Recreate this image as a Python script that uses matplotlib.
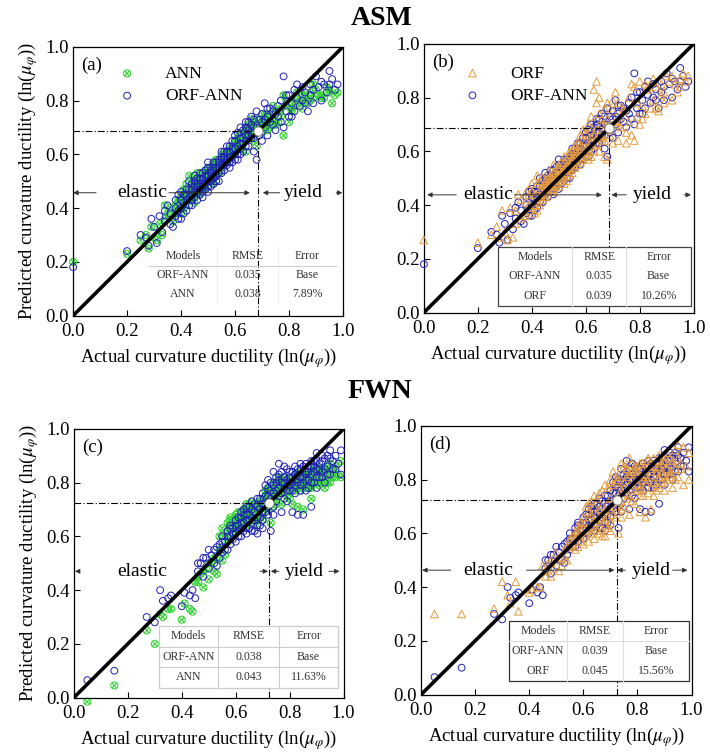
import matplotlib
matplotlib.use("Agg")
import matplotlib.pyplot as plt
from matplotlib.path import Path
from matplotlib.patches import Rectangle

plt.rcParams["font.family"] = "serif"
plt.rcParams["font.serif"] = ["Liberation Serif", "DejaVu Serif"]
plt.rcParams["mathtext.fontset"] = "stix"

# ---- ASM test set: actual vs predicted ln(mu_phi) ----
asm_actual = [
    0.00, 0.20, 0.25, 0.27, 0.28, 0.29, 0.30, 0.31, 0.32, 0.33,
    0.34, 0.34, 0.35, 0.36, 0.36, 0.37, 0.38, 0.38, 0.39, 0.39,
    0.40, 0.40, 0.41, 0.41, 0.42, 0.42, 0.43, 0.43, 0.44, 0.44,
    0.44, 0.45, 0.45, 0.46, 0.46, 0.46, 0.47, 0.47, 0.47, 0.48,
    0.48, 0.48, 0.49, 0.49, 0.49, 0.50, 0.50, 0.50, 0.51, 0.51,
    0.51, 0.52, 0.52, 0.52, 0.53, 0.53, 0.53, 0.54, 0.54, 0.54,
    0.55, 0.55, 0.55, 0.56, 0.56, 0.56, 0.57, 0.57, 0.57, 0.58,
    0.58, 0.58, 0.59, 0.59, 0.60, 0.60, 0.60, 0.61, 0.61, 0.62,
    0.62, 0.62, 0.63, 0.63, 0.64, 0.64, 0.64, 0.65, 0.65, 0.66,
    0.66, 0.66, 0.67, 0.67, 0.68, 0.68, 0.69, 0.70, 0.70, 0.71,
    0.71, 0.72, 0.72, 0.73, 0.74, 0.75, 0.75, 0.76, 0.77, 0.77,
    0.78, 0.78, 0.79, 0.80, 0.80, 0.81, 0.82, 0.82, 0.83, 0.84,
    0.85, 0.85, 0.86, 0.87, 0.88, 0.88, 0.89, 0.90, 0.91, 0.92,
    0.93, 0.94, 0.95, 0.96, 0.97, 0.98,
    0.38, 0.39, 0.40, 0.40, 0.41, 0.42, 0.42, 0.43, 0.43, 0.44,
    0.44, 0.45, 0.45, 0.45, 0.46, 0.46, 0.47, 0.47, 0.48, 0.48,
    0.48, 0.49, 0.49, 0.50, 0.50, 0.50, 0.51, 0.51, 0.52, 0.52,
    0.52, 0.53, 0.53, 0.54, 0.54, 0.55, 0.55, 0.55, 0.56, 0.56,
    0.57, 0.57, 0.58, 0.58, 0.59, 0.59, 0.60, 0.60, 0.61, 0.61,
    0.62, 0.62, 0.63, 0.63, 0.64, 0.64, 0.65, 0.65, 0.66, 0.67,
    0.67, 0.68, 0.69, 0.70, 0.71, 0.72, 0.73, 0.74, 0.76, 0.79,
    0.81, 0.83, 0.86, 0.89, 0.92, 0.95,
]
asm_orfann = [
    0.18, 0.24, 0.30, 0.29, 0.26, 0.36, 0.33, 0.27, 0.37, 0.31,
    0.35, 0.39, 0.41, 0.38, 0.34, 0.33, 0.43, 0.37, 0.39, 0.45,
    0.36, 0.46, 0.42, 0.38, 0.47, 0.39, 0.44, 0.50, 0.49, 0.41,
    0.45, 0.46, 0.50, 0.43, 0.48, 0.51, 0.51, 0.45, 0.48, 0.49,
    0.53, 0.46, 0.47, 0.52, 0.50, 0.50, 0.46, 0.55, 0.54, 0.51,
    0.48, 0.49, 0.55, 0.52, 0.52, 0.57, 0.55, 0.53, 0.50, 0.58,
    0.56, 0.59, 0.53, 0.54, 0.58, 0.61, 0.61, 0.56, 0.58, 0.59,
    0.63, 0.55, 0.57, 0.62, 0.62, 0.65, 0.58, 0.60, 0.68, 0.64,
    0.70, 0.60, 0.66, 0.61, 0.72, 0.67, 0.63, 0.63, 0.69, 0.74,
    0.66, 0.71, 0.61, 0.70, 0.58, 0.76, 0.67, 0.72, 0.65, 0.79,
    0.70, 0.74, 0.67, 0.77, 0.71, 0.75, 0.69, 0.78, 0.72, 0.80,
    0.89, 0.70, 0.76, 0.82, 0.74, 0.79, 0.84, 0.76, 0.81, 0.78,
    0.85, 0.80, 0.83, 0.76, 0.86, 0.82, 0.79, 0.89, 0.85, 0.80,
    0.86, 0.83, 0.91, 0.88, 0.84, 0.86,
    0.40, 0.36, 0.43, 0.40, 0.45, 0.43, 0.45, 0.41, 0.47, 0.43,
    0.47, 0.44, 0.48, 0.52, 0.46, 0.49, 0.47, 0.53, 0.48, 0.51,
    0.44, 0.49, 0.54, 0.48, 0.52, 0.57, 0.50, 0.53, 0.51, 0.54,
    0.57, 0.50, 0.54, 0.55, 0.57, 0.54, 0.58, 0.61, 0.56, 0.59,
    0.57, 0.63, 0.61, 0.57, 0.59, 0.65, 0.60, 0.67, 0.63, 0.58,
    0.66, 0.62, 0.69, 0.64, 0.65, 0.70, 0.67, 0.72, 0.68, 0.73,
    0.66, 0.70, 0.73, 0.75, 0.73, 0.77, 0.72, 0.76, 0.74, 0.82,
    0.74, 0.86, 0.79, 0.84, 0.87, 0.86,
]
asm_ann = [
    0.20, 0.23, 0.28, 0.30, 0.25, 0.33, 0.29, 0.28, 0.34, 0.30,
    0.36, 0.41, 0.38, 0.40, 0.37, 0.35, 0.41, 0.39, 0.42, 0.43,
    0.38, 0.44, 0.45, 0.40, 0.49, 0.41, 0.46, 0.52, 0.47, 0.44,
    0.43, 0.48, 0.52, 0.45, 0.46, 0.53, 0.49, 0.47, 0.50, 0.51,
    0.50, 0.48, 0.49, 0.54, 0.47, 0.52, 0.48, 0.53, 0.52, 0.55,
    0.50, 0.51, 0.57, 0.54, 0.50, 0.55, 0.58, 0.56, 0.53, 0.56,
    0.58, 0.57, 0.55, 0.57, 0.60, 0.59, 0.59, 0.58, 0.61, 0.62,
    0.61, 0.58, 0.60, 0.60, 0.64, 0.63, 0.61, 0.63, 0.66, 0.67,
    0.68, 0.62, 0.64, 0.65, 0.69, 0.70, 0.61, 0.66, 0.71, 0.70,
    0.68, 0.73, 0.65, 0.72, 0.63, 0.73, 0.69, 0.70, 0.68, 0.74,
    0.72, 0.71, 0.69, 0.75, 0.73, 0.72, 0.71, 0.76, 0.74, 0.77,
    0.82, 0.67, 0.78, 0.79, 0.72, 0.76, 0.81, 0.78, 0.79, 0.80,
    0.82, 0.77, 0.80, 0.79, 0.83, 0.80, 0.81, 0.84, 0.82, 0.81,
    0.81, 0.85, 0.84, 0.79, 0.82, 0.83,
    0.38, 0.39, 0.41, 0.43, 0.47, 0.45, 0.43, 0.43, 0.45, 0.46,
    0.49, 0.42, 0.50, 0.49, 0.48, 0.51, 0.45, 0.51, 0.50, 0.53,
    0.47, 0.51, 0.52, 0.50, 0.50, 0.55, 0.53, 0.51, 0.49, 0.56,
    0.54, 0.53, 0.52, 0.57, 0.55, 0.57, 0.60, 0.58, 0.58, 0.56,
    0.60, 0.60, 0.59, 0.60, 0.62, 0.63, 0.63, 0.65, 0.65, 0.62,
    0.64, 0.65, 0.67, 0.66, 0.68, 0.67, 0.69, 0.70, 0.66, 0.71,
    0.69, 0.68, 0.71, 0.72, 0.75, 0.74, 0.70, 0.78, 0.72, 0.80,
    0.77, 0.83, 0.82, 0.86, 0.82, 0.83,
]
asm_orf = [
    0.27, 0.26, 0.29, 0.32, 0.28, 0.38, 0.30, 0.27, 0.39, 0.28,
    0.33, 0.38, 0.44, 0.42, 0.35, 0.36, 0.45, 0.41, 0.40, 0.44,
    0.39, 0.48, 0.40, 0.37, 0.51, 0.38, 0.43, 0.49, 0.46, 0.42,
    0.47, 0.45, 0.47, 0.44, 0.50, 0.48, 0.48, 0.46, 0.51, 0.52,
    0.49, 0.45, 0.47, 0.51, 0.53, 0.53, 0.50, 0.51, 0.50, 0.52,
    0.49, 0.48, 0.56, 0.53, 0.54, 0.52, 0.57, 0.55, 0.51, 0.59,
    0.54, 0.60, 0.52, 0.58, 0.56, 0.62, 0.63, 0.55, 0.57, 0.60,
    0.66, 0.56, 0.58, 0.64, 0.61, 0.67, 0.60, 0.59, 0.70, 0.65,
    0.73, 0.58, 0.83, 0.62, 0.86, 0.68, 0.65, 0.60, 0.80, 0.72,
    0.64, 0.70, 0.58, 0.69, 0.57, 0.78, 0.66, 0.75, 0.63, 0.82,
    0.71, 0.70, 0.64, 0.73, 0.76, 0.67, 0.63, 0.80, 0.66, 0.85,
    0.84, 0.64, 0.73, 0.86, 0.70, 0.77, 0.85, 0.74, 0.83, 0.76,
    0.87, 0.79, 0.84, 0.75, 0.85, 0.81, 0.78, 0.88, 0.86, 0.79,
    0.85, 0.82, 0.87, 0.89, 0.86, 0.88,
    0.36, 0.38, 0.45, 0.42, 0.44, 0.41, 0.48, 0.40, 0.46, 0.44,
    0.50, 0.43, 0.49, 0.46, 0.47, 0.52, 0.49, 0.50, 0.47, 0.55,
    0.46, 0.50, 0.48, 0.47, 0.55, 0.54, 0.51, 0.56, 0.50, 0.52,
    0.58, 0.49, 0.55, 0.53, 0.60, 0.56, 0.58, 0.57, 0.54, 0.60,
    0.59, 0.61, 0.58, 0.62, 0.57, 0.68, 0.59, 0.64, 0.61, 0.57,
    0.69, 0.63, 0.66, 0.60, 0.63, 0.78, 0.66, 0.74, 0.65, 0.76,
    0.64, 0.72, 0.68, 0.79, 0.71, 0.78, 0.69, 0.75, 0.71, 0.78,
    0.72, 0.84, 0.76, 0.82, 0.88, 0.84,
]

# ---- FWN test set ----
fwn_actual = [
    0.05, 0.15, 0.27, 0.30, 0.32, 0.33, 0.35, 0.36, 0.40, 0.41,
    0.43, 0.44, 0.45, 0.46, 0.47, 0.48, 0.49, 0.50, 0.51, 0.52,
    0.53, 0.53, 0.54, 0.55, 0.55, 0.56, 0.57, 0.57, 0.58, 0.58,
    0.58, 0.59, 0.60, 0.60, 0.61, 0.61, 0.62, 0.62, 0.62, 0.63,
    0.63, 0.64, 0.64, 0.64, 0.65, 0.65, 0.66, 0.66, 0.66, 0.67,
    0.67, 0.68, 0.68, 0.68, 0.69, 0.69, 0.70, 0.70, 0.70, 0.71,
    0.71, 0.72, 0.72, 0.72, 0.73, 0.73, 0.74, 0.74, 0.74, 0.75,
    0.75, 0.76, 0.76, 0.76, 0.77, 0.77, 0.78, 0.78, 0.78, 0.79,
    0.79, 0.80, 0.80, 0.80, 0.81, 0.81, 0.82, 0.82, 0.82, 0.83,
    0.83, 0.84, 0.84, 0.84, 0.85, 0.85, 0.86, 0.86, 0.86, 0.87,
    0.87, 0.88, 0.88, 0.88, 0.89, 0.89, 0.90, 0.90, 0.90, 0.91,
    0.91, 0.92, 0.92, 0.93, 0.93, 0.94, 0.94, 0.95, 0.95, 0.96,
    0.97, 0.99, 0.99,
    0.46, 0.48, 0.50, 0.52, 0.54, 0.55, 0.56, 0.57, 0.58, 0.59,
    0.59, 0.60, 0.60, 0.61, 0.61, 0.62, 0.62, 0.63, 0.63, 0.64,
    0.64, 0.65, 0.65, 0.66, 0.66, 0.67, 0.67, 0.68, 0.68, 0.69,
    0.69, 0.70, 0.70, 0.71, 0.71, 0.72, 0.72, 0.73, 0.73, 0.74,
    0.74, 0.75, 0.75, 0.76, 0.76, 0.77, 0.77, 0.78, 0.78, 0.79,
    0.79, 0.80, 0.80, 0.81, 0.81, 0.82, 0.82, 0.83, 0.83, 0.84,
    0.84, 0.85, 0.85, 0.86, 0.86, 0.87, 0.87, 0.88, 0.88, 0.89,
    0.89, 0.90, 0.90, 0.91, 0.92, 0.92, 0.93, 0.94, 0.95, 0.96,
    0.97, 0.98,
]
fwn_orfann = [
    0.065, 0.10, 0.30, 0.28, 0.40, 0.36, 0.37, 0.38, 0.34, 0.39,
    0.38, 0.40, 0.37, 0.47, 0.50, 0.45, 0.52, 0.48, 0.53, 0.50,
    0.56, 0.49, 0.52, 0.58, 0.54, 0.55, 0.60, 0.55, 0.57, 0.63,
    0.60, 0.61, 0.58, 0.64, 0.62, 0.67, 0.60, 0.65, 0.69, 0.68,
    0.62, 0.66, 0.71, 0.61, 0.63, 0.68, 0.70, 0.65, 0.73, 0.72,
    0.62, 0.67, 0.74, 0.61, 0.64, 0.70, 0.76, 0.66, 0.69, 0.72,
    0.79, 0.68, 0.75, 0.78, 0.62, 0.80, 0.71, 0.84, 0.76, 0.77,
    0.73, 0.81, 0.75, 0.87, 0.69, 0.84, 0.78, 0.86, 0.74, 0.73,
    0.81, 0.77, 0.84, 0.80, 0.69, 0.80, 0.83, 0.76, 0.79, 0.68,
    0.85, 0.79, 0.82, 0.87, 0.68, 0.86, 0.81, 0.84, 0.77, 0.78,
    0.86, 0.83, 0.71, 0.86, 0.88, 0.80, 0.85, 0.91, 0.78, 0.82,
    0.87, 0.84, 0.88, 0.89, 0.80, 0.86, 0.90, 0.92, 0.83, 0.88,
    0.85, 0.92, 0.83,
    0.50, 0.52, 0.55, 0.55, 0.57, 0.60, 0.58, 0.62, 0.64, 0.59,
    0.63, 0.61, 0.66, 0.60, 0.64, 0.63, 0.67, 0.65, 0.70, 0.63,
    0.68, 0.66, 0.71, 0.62, 0.67, 0.69, 0.66, 0.64, 0.71, 0.67,
    0.74, 0.72, 0.63, 0.69, 0.75, 0.71, 0.81, 0.74, 0.77, 0.79,
    0.68, 0.82, 0.80, 0.78, 0.83, 0.80, 0.76, 0.82, 0.80, 0.77,
    0.85, 0.82, 0.79, 0.84, 0.77, 0.81, 0.86, 0.80, 0.83, 0.85,
    0.77, 0.82, 0.80, 0.87, 0.83, 0.81, 0.84, 0.80, 0.88, 0.84,
    0.86, 0.82, 0.88, 0.85, 0.90, 0.82, 0.85, 0.83, 0.89, 0.85,
    0.90, 0.87,
]
fwn_ann = [
    -0.015, 0.045, 0.25, 0.20, 0.31, 0.30, 0.33, 0.33, 0.29, 0.35,
    0.33, 0.32, 0.43, 0.43, 0.46, 0.41, 0.48, 0.44, 0.50, 0.47,
    0.52, 0.46, 0.55, 0.56, 0.51, 0.53, 0.62, 0.58, 0.59, 0.66,
    0.64, 0.65, 0.62, 0.67, 0.66, 0.69, 0.63, 0.68, 0.67, 0.70,
    0.65, 0.69, 0.72, 0.64, 0.66, 0.70, 0.73, 0.67, 0.70, 0.71,
    0.64, 0.70, 0.72, 0.66, 0.67, 0.73, 0.74, 0.68, 0.71, 0.75,
    0.77, 0.70, 0.77, 0.76, 0.65, 0.78, 0.73, 0.80, 0.74, 0.75,
    0.72, 0.79, 0.77, 0.82, 0.72, 0.81, 0.76, 0.82, 0.77, 0.75,
    0.79, 0.74, 0.80, 0.77, 0.72, 0.78, 0.81, 0.77, 0.83, 0.71,
    0.82, 0.77, 0.84, 0.83, 0.70, 0.83, 0.78, 0.80, 0.79, 0.80,
    0.83, 0.79, 0.74, 0.83, 0.84, 0.82, 0.81, 0.86, 0.80, 0.79,
    0.84, 0.81, 0.84, 0.85, 0.78, 0.82, 0.86, 0.87, 0.80, 0.84,
    0.82, 0.88, 0.82,
    0.45, 0.47, 0.50, 0.52, 0.60, 0.63, 0.61, 0.65, 0.67, 0.63,
    0.66, 0.65, 0.68, 0.63, 0.67, 0.66, 0.69, 0.68, 0.70, 0.66,
    0.70, 0.68, 0.72, 0.66, 0.69, 0.71, 0.68, 0.67, 0.72, 0.70,
    0.73, 0.73, 0.66, 0.71, 0.74, 0.73, 0.78, 0.75, 0.77, 0.77,
    0.71, 0.79, 0.78, 0.76, 0.80, 0.78, 0.78, 0.79, 0.82, 0.79,
    0.81, 0.80, 0.81, 0.82, 0.79, 0.79, 0.83, 0.78, 0.80, 0.81,
    0.79, 0.80, 0.82, 0.83, 0.81, 0.79, 0.85, 0.78, 0.84, 0.80,
    0.85, 0.80, 0.85, 0.82, 0.85, 0.80, 0.83, 0.80, 0.85, 0.82,
    0.86, 0.83,
]
fwn_orf = [
    0.30, 0.30, 0.32, 0.42, 0.37, 0.34, 0.42, 0.31, 0.38, 0.39,
    0.40, 0.40, 0.48, 0.46, 0.49, 0.44, 0.47, 0.50, 0.46, 0.48,
    0.54, 0.51, 0.50, 0.57, 0.55, 0.59, 0.58, 0.54, 0.55, 0.61,
    0.59, 0.64, 0.56, 0.62, 0.60, 0.70, 0.57, 0.66, 0.71, 0.72,
    0.60, 0.64, 0.74, 0.58, 0.61, 0.67, 0.69, 0.63, 0.75, 0.76,
    0.59, 0.65, 0.78, 0.59, 0.62, 0.71, 0.80, 0.64, 0.73, 0.70,
    0.83, 0.66, 0.73, 0.81, 0.60, 0.82, 0.69, 0.86, 0.72, 0.79,
    0.70, 0.84, 0.73, 0.84, 0.67, 0.88, 0.80, 0.83, 0.72, 0.71,
    0.85, 0.78, 0.82, 0.83, 0.68, 0.77, 0.86, 0.74, 0.76, 0.66,
    0.81, 0.80, 0.85, 0.88, 0.69, 0.84, 0.79, 0.88, 0.74, 0.76,
    0.83, 0.85, 0.77, 0.87, 0.82, 0.79, 0.87, 0.89, 0.76, 0.80,
    0.90, 0.83, 0.82, 0.86, 0.77, 0.84, 0.91, 0.93, 0.81, 0.86,
    0.78, 0.90, 0.80,
    0.44, 0.50, 0.53, 0.51, 0.55, 0.58, 0.56, 0.60, 0.63, 0.57,
    0.62, 0.66, 0.64, 0.59, 0.62, 0.61, 0.68, 0.63, 0.67, 0.61,
    0.70, 0.64, 0.73, 0.60, 0.66, 0.67, 0.70, 0.63, 0.69, 0.66,
    0.77, 0.69, 0.61, 0.67, 0.78, 0.70, 0.79, 0.72, 0.80, 0.76,
    0.66, 0.85, 0.77, 0.75, 0.81, 0.82, 0.74, 0.86, 0.78, 0.76,
    0.83, 0.85, 0.76, 0.86, 0.74, 0.80, 0.84, 0.82, 0.79, 0.87,
    0.75, 0.83, 0.77, 0.85, 0.86, 0.78, 0.82, 0.81, 0.89, 0.86,
    0.83, 0.79, 0.86, 0.84, 0.88, 0.81, 0.87, 0.80, 0.88, 0.84,
    0.92, 0.85,
]

# yield points (ln of yield curvature ductility)
asm_yield = 0.685
fwn_yield = 0.725

table_header = ["Models", "RMSE", "Error"]
asm_ann_table = [["ORF-ANN", "0.035", "Base"], ["ANN", "0.038", "7.89%"]]
asm_orf_table = [["ORF-ANN", "0.035", "Base"], ["ORF", "0.039", "10.26%"]]
fwn_ann_table = [["ORF-ANN", "0.038", "Base"], ["ANN", "0.043", "11.63%"]]
fwn_orf_table = [["ORF-ANN", "0.039", "Base"], ["ORF", "0.045", "15.56%"]]

GREEN = "#3ad53a"
BLUE = "#1f1fb8"
ORANGE = "#e59b3a"

# circle with a cross inside, used for the ANN markers
d = 0.7071
otimes = Path.make_compound_path(
    Path.unit_circle(),
    Path([(-d, -d), (d, d), (-d, d), (d, -d)],
         [Path.MOVETO, Path.LINETO, Path.MOVETO, Path.LINETO]),
)

fig = plt.figure(figsize=(7.1, 7.55), dpi=100)
axes = {
    "a": fig.add_axes([0.103, 0.582, 0.380, 0.356]),
    "b": fig.add_axes([0.597, 0.586, 0.380, 0.356]),
    "c": fig.add_axes([0.104, 0.076, 0.380, 0.356]),
    "d": fig.add_axes([0.593, 0.080, 0.381, 0.356]),
}

fig.text(0.538, 0.975, "ASM", fontsize=20, fontweight="bold", ha="center", va="center")
fig.text(0.535, 0.481, "FWN", fontsize=20, fontweight="bold", ha="center", va="center")

xlabel = r"Actual curvature ductility (ln($\mu_{\varphi}$))"
ylabel = r"Predicted curvature ductility (ln($\mu_{\varphi}$))"


def style_axes(ax, tag, show_ylabel):
    ax.set_xlim(0, 1)
    ax.set_ylim(0, 1)
    ticks = [0.0, 0.2, 0.4, 0.6, 0.8, 1.0]
    ax.set_xticks(ticks)
    ax.set_yticks(ticks)
    ax.set_xticklabels([f"{t:.1f}" for t in ticks])
    ax.set_yticklabels([f"{t:.1f}" for t in ticks])
    ax.tick_params(direction="in", length=4, width=0.8, labelsize=13.5)
    ax.tick_params(axis="x", pad=5)
    ax.tick_params(axis="y", pad=3)
    for s in ax.spines.values():
        s.set_linewidth(0.9)
    ax.set_xlabel(xlabel, fontsize=13.5, labelpad=5)
    if show_ylabel:
        ax.set_ylabel(ylabel, fontsize=13.5, labelpad=4)
    ax.text(0.03, 0.965, f"({tag})", transform=ax.transAxes, fontsize=13.5,
            ha="left", va="top", zorder=6)
    ax.plot([0, 1], [0, 1], color="black", lw=2.6, zorder=4, solid_capstyle="butt")


def crosshair(ax, yp):
    kw = dict(color="black", lw=0.8, dashes=(6, 2, 1, 2), zorder=5)
    ax.plot([0, yp], [yp, yp], **kw)
    ax.plot([yp, yp], [0, yp], **kw)
    ax.scatter([yp], [yp], s=45, facecolor="white", edgecolor="#666666",
               linewidth=0.6, zorder=6)


def arrow(ax, x0, x1, y):
    ax.annotate("", xy=(x1, y), xytext=(x0, y),
                arrowprops=dict(arrowstyle="-|>", color="#333333", lw=0.7,
                                mutation_scale=7, shrinkA=0, shrinkB=0),
                zorder=6)


def regions(ax, y, segs, x_el, x_yi):
    for x0, x1 in segs:
        arrow(ax, x0, x1, y)
    ax.text(x_el, y, "elastic", fontsize=14, ha="center", va="center", zorder=6)
    ax.text(x_yi, y, "yield", fontsize=14, ha="center", va="center", zorder=6)


def table(ax, rows, l, r, b, t, splits, box=None, fill=False,
          vcolor=None, hlines=(), hcolor="#cccccc"):
    if fill:
        ax.add_patch(Rectangle((l, b), r - l, t - b, transform=ax.transAxes,
                               facecolor="white", edgecolor="none", zorder=7))
    if box:
        ax.add_patch(Rectangle((l, b), r - l, t - b, transform=ax.transAxes,
                               facecolor="none", edgecolor=box, lw=0.9, zorder=8))
    if vcolor:
        for xs in splits:
            ax.plot([xs, xs], [b, t], transform=ax.transAxes, color=vcolor,
                    lw=0.8, zorder=8)
    for yh in hlines:
        ax.plot([l, r], [yh, yh], transform=ax.transAxes, color=hcolor,
                lw=0.8, zorder=8)
    bounds = [l] + list(splits) + [r]
    centers = [(bounds[i] + bounds[i + 1]) / 2 for i in range(3)]
    h = (t - b) / 3
    for j, row in enumerate([table_header] + rows):
        yc = t - h * (j + 0.5)
        for i, txt in enumerate(row):
            ax.text(centers[i], yc, txt, transform=ax.transAxes, fontsize=8.5,
                    color="#333333", ha="center", va="center", zorder=9)


def scatter_orfann(ax, x, y):
    return ax.scatter(x, y, s=24, marker="o", facecolors="none",
                      edgecolors=BLUE, linewidths=0.7, zorder=3, clip_on=False)


def scatter_ann(ax, x, y):
    return ax.scatter(x, y, s=26, marker=otimes, facecolors="none",
                      edgecolors=GREEN, linewidths=0.8, zorder=2.5, clip_on=False)


def scatter_orf(ax, x, y):
    return ax.scatter(x, y, s=30, marker="^", facecolors="none",
                      edgecolors=ORANGE, linewidths=0.7, zorder=3.2, clip_on=False)


leg_kw = dict(loc="upper left", frameon=False, fontsize=12.5, handletextpad=1.2,
              labelspacing=0.35, scatterpoints=1, borderaxespad=0)

# (a) ASM: ANN vs ORF-ANN
ax = axes["a"]
style_axes(ax, "a", True)
h1 = scatter_ann(ax, asm_actual, asm_ann)
h2 = scatter_orfann(ax, asm_actual, asm_orfann)
ax.legend([h1, h2], ["ANN", "ORF-ANN"], bbox_to_anchor=(0.11, 0.955), **leg_kw)
crosshair(ax, asm_yield)
regions(ax, 0.457, [(0.085, 0.0), (0.355, 0.655), (0.765, 0.703), (0.975, 0.998)], 0.255, 0.855)
table(ax, asm_ann_table, 0.28, 0.975, 0.045, 0.255, [0.535, 0.76],
      vcolor="#eeeeee", hlines=[0.185], hcolor="#cccccc")

# (b) ASM: ORF vs ORF-ANN
ax = axes["b"]
style_axes(ax, "b", False)
h1 = scatter_orf(ax, asm_actual, asm_orf)
h2 = scatter_orfann(ax, asm_actual, asm_orfann)
ax.legend([h1, h2], ["ORF", "ORF-ANN"], bbox_to_anchor=(0.09, 0.945), **leg_kw)
crosshair(ax, asm_yield)
regions(ax, 0.438, [(0.12, 0.012), (0.335, 0.66), (0.75, 0.695), (0.965, 0.99)], 0.24, 0.845)
table(ax, asm_orf_table, 0.274, 0.99, 0.025, 0.245, [0.55, 0.75],
      box="#444444", fill=True, vcolor="#dddddd")

# (c) FWN: ANN vs ORF-ANN
ax = axes["c"]
style_axes(ax, "c", True)
scatter_ann(ax, fwn_actual, fwn_ann)
scatter_orfann(ax, fwn_actual, fwn_orfann)
crosshair(ax, fwn_yield)
regions(ax, 0.47, [(0.02, 0.004), (0.69, 0.72), (0.76, 0.73), (0.945, 0.985)], 0.255, 0.855)
table(ax, fwn_ann_table, 0.315, 0.98, 0.037, 0.268, [0.535, 0.76],
      box="#cccccc", fill=True, vcolor="#cccccc", hlines=[0.19, 0.114])

# (d) FWN: ORF vs ORF-ANN
ax = axes["d"]
style_axes(ax, "d", False)
scatter_orf(ax, fwn_actual, fwn_orf)
scatter_orfann(ax, fwn_actual, fwn_orfann)
crosshair(ax, fwn_yield)
regions(ax, 0.463, [(0.11, 0.004), (0.39, 0.715), (0.755, 0.725), (0.93, 0.985)], 0.25, 0.853)
table(ax, fwn_orf_table, 0.326, 0.99, 0.05, 0.274, [0.54, 0.745],
      box="#333333", fill=True, vcolor="#dddddd", hlines=[0.2], hcolor="#dddddd")

fig.savefig("out.png", dpi=100)
